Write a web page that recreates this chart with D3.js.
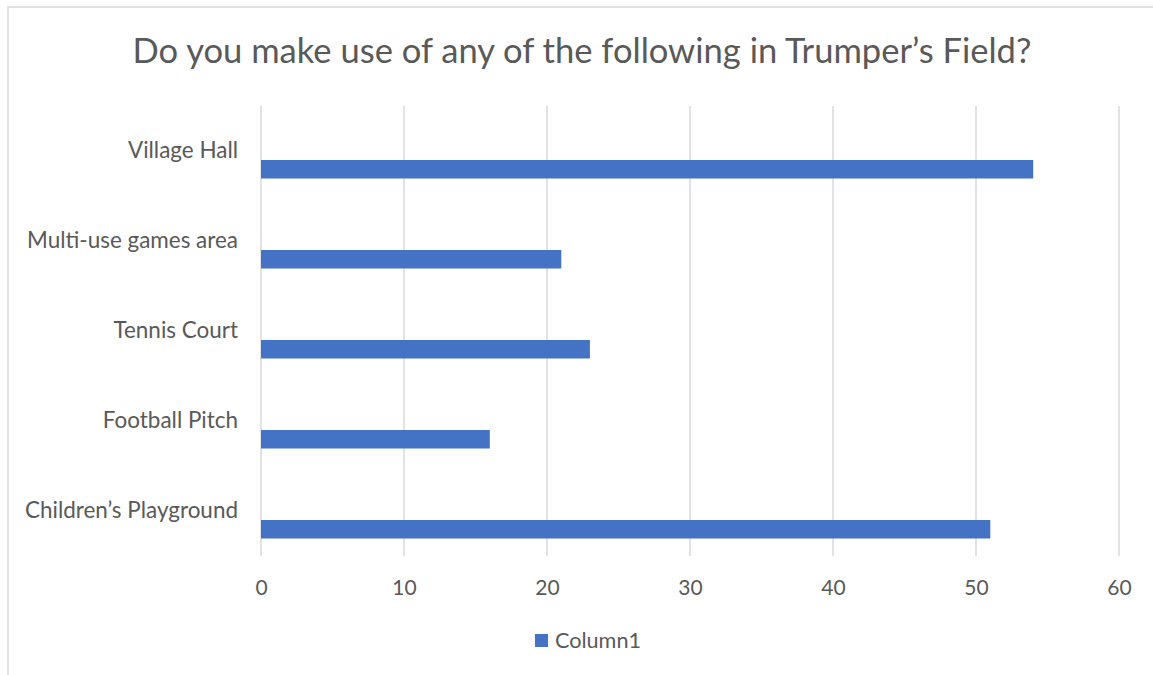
<!DOCTYPE html>
<html>
<head>
<meta charset="utf-8">
<script src="https://cdn.jsdelivr.net/npm/d3@7"></script>
<style>
  html, body { margin: 0; padding: 0; background: #ffffff; }
  svg { display: block; }
  text { font-family: Lato, "Open Sans", "Liberation Sans", sans-serif; fill: #595959; }
</style>
</head>
<body>
<svg id="chart" width="1153" height="675"></svg>
<script>
// Survey responses: facilities used in Trumper's Field
const title = "Do you make use of any of the following in Trumper\u2019s Field?";
const categories = ["Village Hall", "Multi-use games area", "Tennis Court", "Football Pitch", "Children\u2019s Playground"];
const values = [54, 21, 23, 16, 51];
const tickValues = [0, 10, 20, 30, 40, 50, 60];
const seriesName = "Column1";

const svg = d3.select("#chart");
const W = 1153, H = 675;

// outer chart frame
svg.append("rect")
  .attr("x", 8).attr("y", 7)
  .attr("width", W + 20).attr("height", H + 20)
  .attr("fill", "#ffffff")
  .attr("stroke", "#d9d9d9").attr("stroke-width", 1.5);

const plot = { left: 261, right: 1119, top: 106, bottom: 556 };

const x = d3.scaleLinear().domain([0, 60]).range([plot.left, plot.right]);
const y = d3.scaleBand().domain(categories).range([plot.top, plot.bottom]);

// fit a text element's font size so it spans a given width
function fitWidth(sel, target) {
  const node = sel.node();
  const fs = parseFloat(sel.attr("font-size"));
  const w = node.getComputedTextLength();
  if (w > 0) sel.attr("font-size", (fs * target / w).toFixed(2));
}

// title
const t = svg.append("text")
  .attr("x", 582).attr("y", 63)
  .attr("text-anchor", "middle")
  .attr("font-size", 30)
  .text(title);
fitWidth(t, 899);

// vertical gridlines
svg.append("g")
  .selectAll("line")
  .data(tickValues)
  .join("line")
  .attr("x1", d => x(d)).attr("x2", d => x(d))
  .attr("y1", plot.top).attr("y2", plot.bottom)
  .attr("stroke", "#d9d9d9").attr("stroke-width", 1.5);

// x axis tick labels
const xAxis = d3.axisBottom(x).tickValues(tickValues).tickSize(0).tickPadding(0);
const gx = svg.append("g")
  .attr("transform", `translate(0, ${plot.bottom + 39})`)
  .call(xAxis);
gx.select(".domain").remove();
gx.selectAll("text")
  .attr("font-size", 21)
  .attr("dy", 0)
  .style("font-family", "Lato, 'Open Sans', sans-serif")
  .attr("fill", "#595959");

// category labels
const yAxis = d3.axisLeft(y).tickSize(0).tickPadding(0);
const gy = svg.append("g")
  .attr("transform", `translate(238, 0)`)
  .call(yAxis);
gy.select(".domain").remove();
gy.selectAll("text")
  .attr("font-size", 19)
  .style("font-family", "Lato, 'Open Sans', sans-serif")
  .attr("fill", "#595959");
// size category labels from the widest one
const widest = gy.selectAll("text").filter(d => d === categories[4]);
const fs0 = 19;
const w0 = widest.node().getComputedTextLength();
const fsCat = (fs0 * 213 / w0).toFixed(2);
gy.selectAll("text").attr("font-size", fsCat);

// bars sit in the lower half of each band
const barH = 18.5;
svg.append("g")
  .selectAll("rect")
  .data(categories.map((c, i) => ({ c, v: values[i] })))
  .join("rect")
  .attr("x", x(0))
  .attr("y", d => y(d.c) + y.bandwidth() / 2 + 9)
  .attr("width", d => x(d.v) - x(0))
  .attr("height", barH)
  .attr("fill", "#4472c4");

// legend
const lg = svg.append("g");
lg.append("rect")
  .attr("x", 535).attr("y", 634)
  .attr("width", 13).attr("height", 13)
  .attr("fill", "#4472c4");
const lt = lg.append("text")
  .attr("x", 555).attr("y", 648)
  .attr("font-size", 19)
  .text(seriesName);
fitWidth(lt, 86);
</script>
</body>
</html>
